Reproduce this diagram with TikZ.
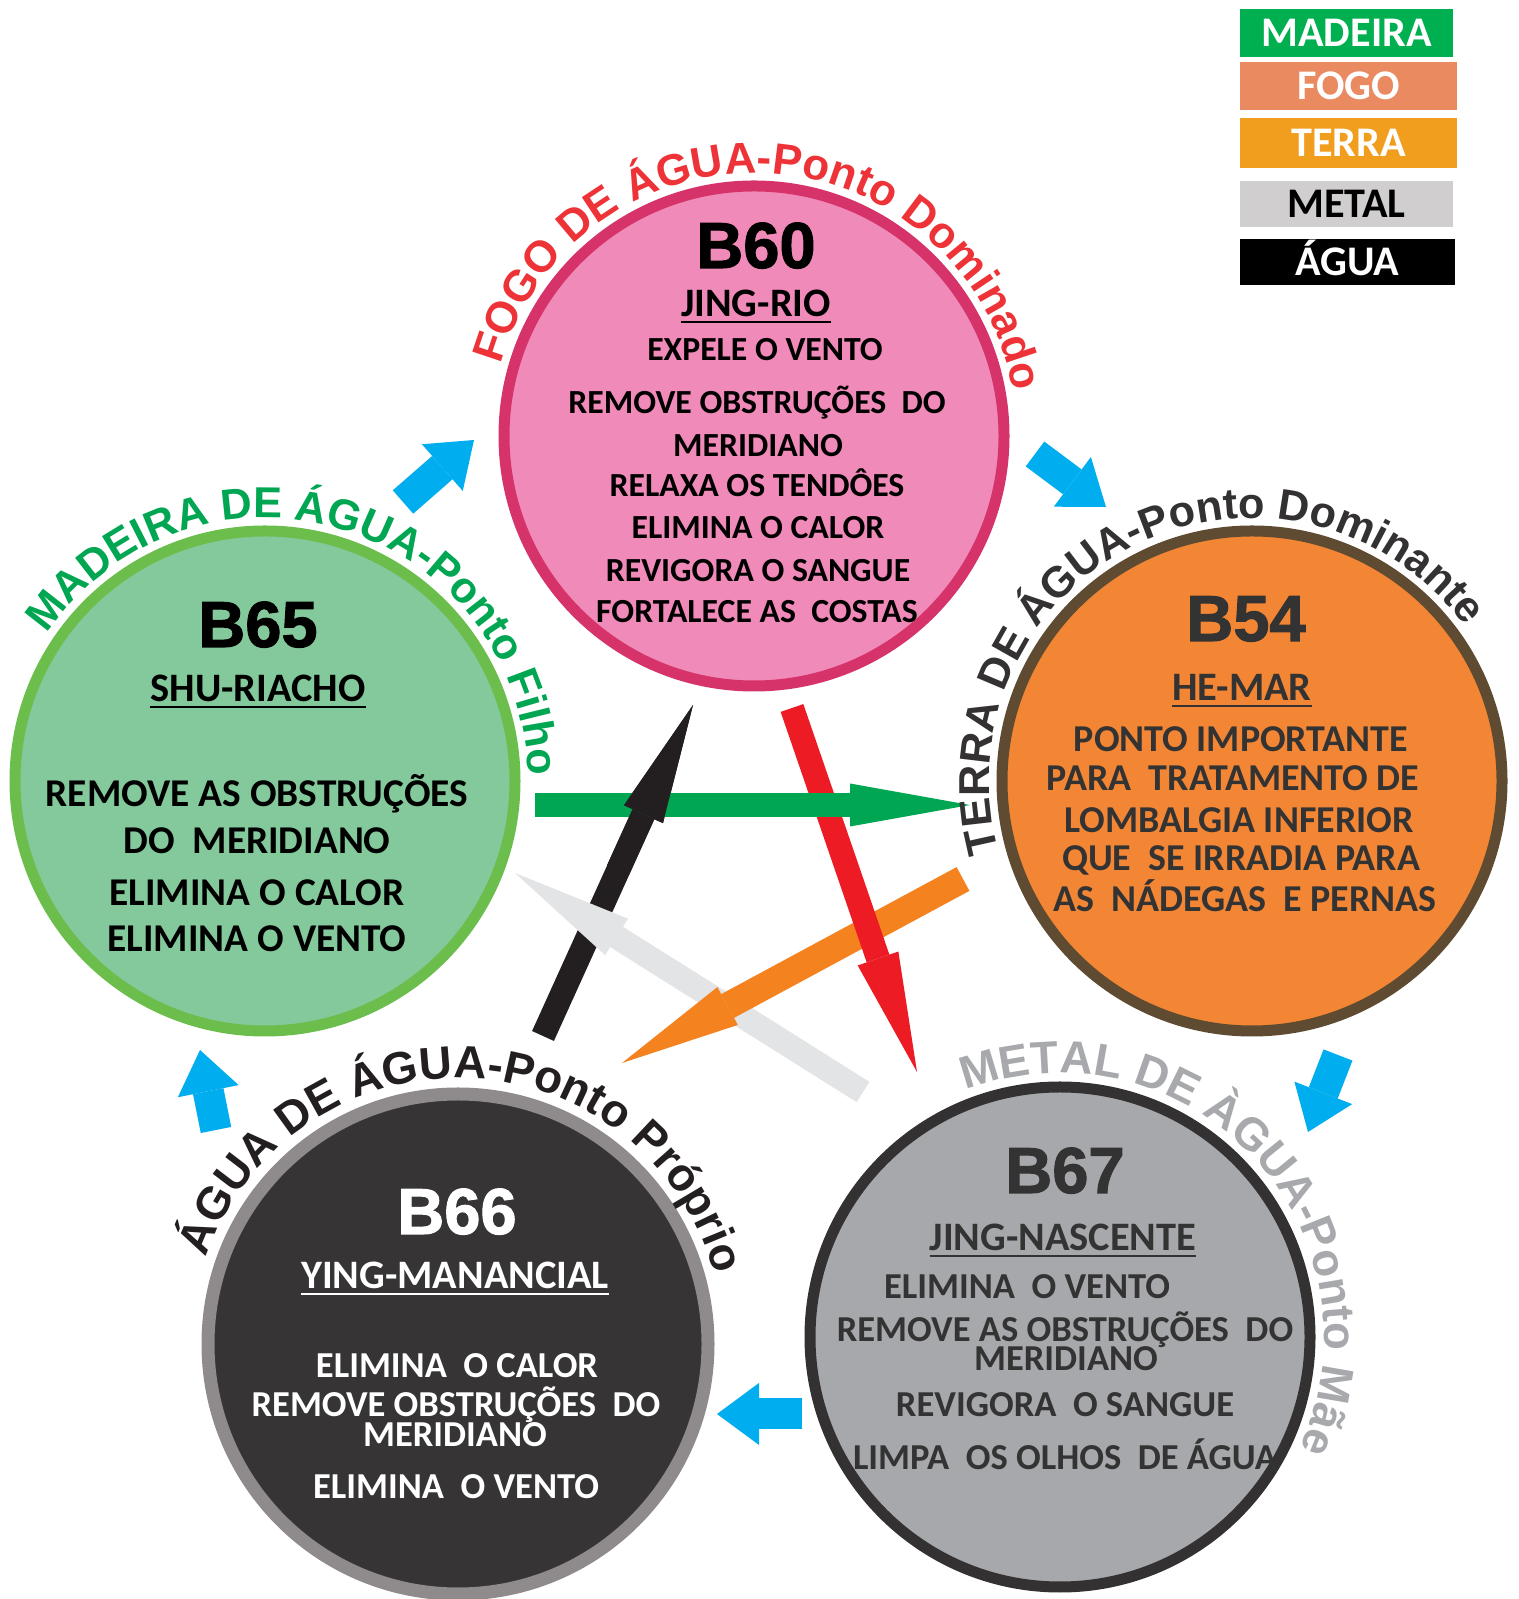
\documentclass[tikz,border=0pt]{standalone}
\usepackage{fontspec}
\setmainfont{Carlito}
\newfontfamily\headfont{Liberation Sans}[BoldFeatures={FakeBold=1.6}]
\newfontfamily\arcfont{Liberation Sans}
\usetikzlibrary{arrows.meta, decorations.text}
\definecolor{FogoFill}{HTML}{F08AB8}
\definecolor{FogoLine}{HTML}{D6336A}
\definecolor{FogoText}{HTML}{EE3338}
\definecolor{MadFill}{HTML}{84C99C}
\definecolor{MadLine}{HTML}{6CBE4C}
\definecolor{MadText}{HTML}{00A651}
\definecolor{TerFill}{HTML}{F38634}
\definecolor{TerLine}{HTML}{5E4B31}
\definecolor{TerText}{HTML}{333132}
\definecolor{AguaFill}{HTML}{363435}
\definecolor{AguaLine}{HTML}{8F8A8C}
\definecolor{AguaText}{HTML}{231F20}
\definecolor{MetFill}{HTML}{A7A8AB}
\definecolor{MetLine}{HTML}{333132}
\definecolor{MetText}{HTML}{A7A9AC}
\definecolor{Dark}{HTML}{333333}
\definecolor{BlueArrow}{HTML}{00AEEF}
\definecolor{StarGreen}{HTML}{00A651}
\definecolor{StarBlack}{HTML}{231F20}
\definecolor{StarRed}{HTML}{ED1C24}
\definecolor{StarOrange}{HTML}{F3821F}
\definecolor{StarGray}{HTML}{E3E4E5}
\definecolor{LegMadeira}{HTML}{00B050}
\definecolor{LegFogo}{HTML}{E98A61}
\definecolor{LegTerra}{HTML}{F19E1F}
\definecolor{LegMetal}{HTML}{D0CECF}
\tikzset{
    pointcircle/.style={circle, minimum size=5cm, inner sep=0pt, line width=1.1mm},
    titletext/.style={anchor=base, font=\headfont\bfseries\fontsize{18.5}{20}\selectfont},
    subtext/.style={anchor=base, font=\bfseries\fontsize{11.5}{13}\selectfont},
    bodytext/.style={anchor=base, font=\bfseries\fontsize{#1}{12}\selectfont},
    legendbox/.style={rectangle, inner sep=0pt, text=white, text height=7.7pt, text depth=0pt, font=\bfseries\fontsize{12}{14}\selectfont},
    bluearrow/.style={-{Triangle[length=0.42cm, width=0.62cm, line width=0pt]}, line width=0.31cm, color=BlueArrow},
    stararrow/.style={-{Triangle[length=1.2cm, width=0.43cm, line width=0pt]}, line width=0.24cm, color=#1},
    arclabel/.style n args={3}{decorate, decoration={text along path, text align=center,
        text={|\arcfont\bfseries\fontsize{#2}{15}\selectfont\color{#1}|#3}}},
}
\begin{document}
\begin{tikzpicture}
    \useasboundingbox (0,0) rectangle (15.19,15.99);
    \fill[white] (0,0) rectangle (15.19,15.99);

    % Fogo - B60
    \node[pointcircle, draw=FogoLine, fill=FogoFill] (b60) at (7.54,11.63) {};
    \node[titletext] (b60t) at (7.56,13.31) {B60};
    \node[subtext] (b60s) at (7.56,12.82) {\underline{JING-RIO}};
    \node[bodytext=9.6] (b60a) at (7.65,12.38) {EXPELE O VENTO};
    \node[bodytext=9.6] (b60b) at (7.57,11.85) {REMOVE OBSTRUÇÕES~ DO};
    \node[bodytext=9.6] (b60c) at (7.58,11.42) {MERIDIANO};
    \node[bodytext=9.6] (b60d) at (7.57,11.02) {RELAXA OS TENDÔES};
    \node[bodytext=9.6] (b60e) at (7.58,10.60) {ELIMINA O CALOR};
    \node[bodytext=9.6] (b60f) at (7.58,10.17) {REVIGORA O SANGUE};
    \node[bodytext=9.6] (b60g) at (7.57,9.76) {FORTALECE AS~ COSTAS};

    % Madeira - B65
    \node[pointcircle, draw=MadLine, fill=MadFill] (b65) at (2.65,8.18) {};
    \node[titletext] (b65t) at (2.58,9.52) {B65};
    \node[subtext] (b65s) at (2.58,8.97) {\underline{SHU-RIACHO}};
    \node[bodytext=11.2] (b65a) at (2.57,7.92) {REMOVE AS OBSTRUÇÕES};
    \node[bodytext=11.2] (b65b) at (2.57,7.45) {DO~ MERIDIANO};
    \node[bodytext=11.2] (b65c) at (2.57,6.93) {ELIMINA O CALOR};
    \node[bodytext=11.2] (b65d) at (2.57,6.47) {ELIMINA O VENTO};

    % Terra - B54
    \node[pointcircle, draw=TerLine, fill=TerFill] (b54) at (12.52,8.18) {};
    \node[titletext, Dark] (b54t) at (12.46,9.58) {B54};
    \node[subtext, Dark] (b54s) at (12.42,8.98) {\underline{HE-MAR}};
    \node[bodytext=10.8, Dark] (b54a) at (12.41,8.47) {PONTO IMPORTANTE};
    \node[bodytext=10.8, Dark] (b54b) at (12.33,8.08) {PARA~ TRATAMENTO DE};
    \node[bodytext=10.8, Dark] (b54c) at (12.39,7.66) {LOMBALGIA INFERIOR};
    \node[bodytext=10.8, Dark] (b54d) at (12.41,7.28) {QUE~ SE IRRADIA PARA};
    \node[bodytext=10.8, Dark] (b54e) at (12.45,6.87) {AS~ NÁDEGAS~ E PERNAS};

    % Agua - B66
    \node[pointcircle, draw=AguaLine, fill=AguaFill, line width=1.3mm] (b66) at (4.58,2.55) {};
    \node[titletext, white] (b66t) at (4.57,3.65) {B66};
    \node[subtext, white] (b66s) at (4.55,3.10) {\underline{YING-MANANCIAL}};
    \node[bodytext=10.4, white] (b66a) at (4.57,2.21) {ELIMINA~ O CALOR};
    \node[bodytext=10.4, white] (b66b) at (4.56,1.82) {REMOVE OBSTRUÇÕES~ DO};
    \node[bodytext=10.4, white] (b66c) at (4.55,1.52) {MERIDIANO};
    \node[bodytext=10.4, white] (b66d) at (4.56,1.00) {ELIMINA~ O VENTO};

    % Metal - B67
    \node[pointcircle, draw=MetLine, fill=MetFill] (b67) at (10.60,2.62) {};
    \node[titletext, Dark] (b67t) at (10.65,4.06) {B67};
    \node[subtext, Dark] (b67s) at (10.63,3.48) {\underline{JING-NASCENTE}};
    \node[bodytext=10.4, Dark] (b67a) at (10.27,3.00) {ELIMINA~ O VENTO};
    \node[bodytext=10.4, Dark] (b67b) at (10.65,2.57) {REMOVE AS OBSTRUÇÕES~ DO};
    \node[bodytext=10.4, Dark] (b67c) at (10.66,2.28) {MERIDIANO};
    \node[bodytext=10.4, Dark] (b67d) at (10.65,1.82) {REVIGORA~ O SANGUE};
    \node[bodytext=10.4, Dark] (b67e) at (10.65,1.29) {LIMPA~ OS OLHOS~ DE ÁGUA};

    % Estrela
    \coordinate (gtail) at (5.35,7.94);  \coordinate (gtip) at (9.70,7.94);
    \coordinate (ktail) at (5.43,5.63);  \coordinate (ktip) at (6.93,8.94);
    \coordinate (kmid) at (6.18,7.29);
    \coordinate (rtail) at (7.92,8.91);  \coordinate (rtip) at (9.17,5.27);
    \coordinate (otail) at (9.63,7.20);  \coordinate (otip) at (6.22,5.36);
    \coordinate (wtail) at (8.63,5.07);  \coordinate (wtip) at (5.15,7.26);
    \draw[stararrow=StarBlack] (ktail) -- (ktip);
    \draw[stararrow=StarGray] (wtail) -- (wtip);
    \draw[stararrow=StarOrange, line width=0.27cm] (otail) -- (otip);
    \draw[stararrow=StarRed] (rtail) -- (rtip);
    \draw[stararrow=StarGreen] (gtail) -- (gtip);
    \draw[stararrow=StarBlack] (kmid) -- (ktip);

    % Ciclo
    \coordinate (ua1) at (4.03,10.97);  \coordinate (ua2) at (4.74,11.59);
    \coordinate (ub1) at (10.35,11.45); \coordinate (ub2) at (11.06,10.92);
    \coordinate (uc1) at (13.38,5.44);  \coordinate (uc2) at (13.08,4.67);
    \coordinate (ud1) at (8.02,1.85);   \coordinate (ud2) at (7.17,1.85);
    \coordinate (ue1) at (2.16,4.69);   \coordinate (ue2) at (2.00,5.49);
    \foreach \u in {a,b,c,d,e}
        \draw[bluearrow] (u\u1) -- (u\u2);

    % Rotulos
    \path[arclabel={FogoText}{12.5}{FOGO DE ÁGUA-Ponto Dominado}]
        ([shift={(187:2.63)}]b60.center) arc[start angle=187, end angle=-13, radius=2.63];
    \path[arclabel={MadText}{12.3}{MADEIRA DE ÁGUA-Ponto Filho}]
        ([shift={(173.5:2.63)}]b65.center) arc[start angle=173.5, end angle=-26.5, radius=2.63];
    \path[arclabel={TerText}{12.3}{TERRA DE ÁGUA-Ponto Dominante}]
        ([shift={(215.7:2.63)}]b54.center) arc[start angle=215.7, end angle=15.7, radius=2.63];
    \path[arclabel={AguaText}{13}{ÁGUA DE ÁGUA-Ponto Próprio}]
        ([shift={(188:2.66)}]b66.center) arc[start angle=188, end angle=-12, radius=2.66];
    \path[arclabel={MetText}{13}{METAL DE ÀGUA-Ponto Mãe}]
        ([shift={(143:2.64)}]b67.center) arc[start angle=143, end angle=-57, radius=2.64];

    % Legenda
    \node[legendbox, fill=LegMadeira, minimum width=2.13cm, minimum height=0.48cm] (legmad) at (13.465,15.66) {MADEIRA};
    \node[legendbox, fill=LegFogo, minimum width=2.17cm, minimum height=0.48cm] (legfogo) at (13.485,15.13) {FOGO};
    \node[legendbox, fill=LegTerra, minimum width=2.17cm, minimum height=0.50cm] (legterra) at (13.485,14.56) {TERRA};
    \node[legendbox, fill=LegMetal, text=black, minimum width=2.13cm, minimum height=0.46cm] (legmetal) at (13.465,13.95) {METAL};
    \node[legendbox, fill=black, minimum width=2.15cm, minimum height=0.46cm] (legagua) at (13.475,13.37) {ÁGUA};
\end{tikzpicture}
\end{document}
